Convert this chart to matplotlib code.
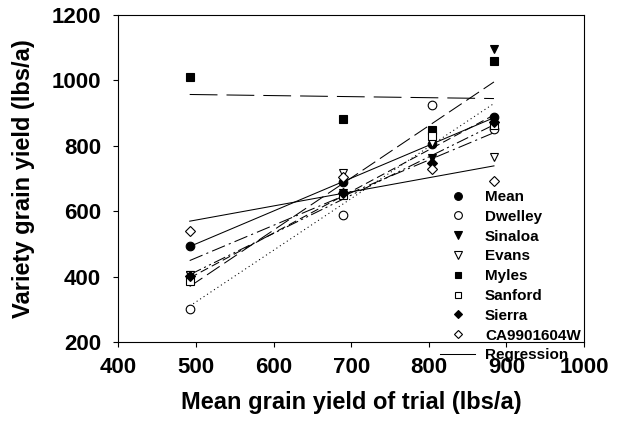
import numpy as np
import matplotlib
matplotlib.use("Agg")
import matplotlib.pyplot as plt
from matplotlib.lines import Line2D

plt.rcParams['font.family'] = ['Liberation Sans', 'DejaVu Sans']
plt.rcParams['font.weight'] = 'bold'
plt.rcParams['lines.scale_dashes'] = False

# trial mean yields (x) and variety yields at each trial (lbs/a)
trial_mean = [492, 690, 804, 884]
varieties = ["Mean", "Dwelley", "Sinaloa", "Evans", "Myles", "Sanford", "Sierra", "CA9901604W"]
mean_y = [493, 691, 805, 887]
dwelley_y = [303, 589, 924, 851]
sinaloa_y = [407, 656, 762, 1095]
evans_y = [405, 718, 808, 767]
myles_y = [1012, 881, 848, 1059]
sanford_y = [388, 650, 830, 864]
sierra_y = [402, 657, 747, 874]
ca_y = [540, 706, 729, 694]

series = [mean_y, dwelley_y, sinaloa_y, evans_y, myles_y, sanford_y, sierra_y, ca_y]

# marker, fill, line dash pattern for each variety
styles = [
    ('o', 'black', '-'),
    ('o', 'white', (0, (0.8, 2.2))),
    ('v', 'black', (0, (11, 4))),
    ('v', 'white', (0, (10, 3, 1.5, 3))),
    ('s', 'black', (0, (20, 6.5))),
    ('s', 'white', (0, (6, 3))),
    ('D', 'black', (0, (9, 2.5, 1.5, 2.5, 1.5, 2.5))),
    ('D', 'white', '-'),
]
msizes = {'o': 6.2, 'v': 6.4, 's': 5.4, 'D': 5.0}

fig = plt.figure(figsize=(6.2, 4.25), dpi=100)
ax = fig.add_axes([118.3 / 620, 1 - 342.3 / 425, (584 - 118.3) / 620, (342.3 - 15) / 425])

x = np.array(trial_mean, dtype=float)
xs = np.array([x.min(), x.max()])
handles = []
for name, y, (mk, fc, ls) in zip(varieties, series, styles):
    slope, icpt = np.polyfit(x, np.array(y, dtype=float), 1)
    ax.plot(xs, slope * xs + icpt, color='black', lw=0.75, linestyle=ls, zorder=2)
    ax.plot(x, y, linestyle='none', marker=mk, ms=msizes[mk], mfc=fc, mec='black',
            mew=0.8, zorder=3, clip_on=False)
    handles.append(Line2D([], [], linestyle='none', marker=mk, ms=msizes[mk] * 0.9,
                          mfc=fc, mec='black', mew=0.8))
handles.append(Line2D([], [], color='black', lw=0.75))
labels = varieties + ["Regression"]

ax.set_xlim(400, 1000)
ax.set_ylim(200, 1200)
ax.set_xticks(np.arange(400, 1001, 100))
ax.set_yticks(np.arange(200, 1201, 200))
ax.tick_params(direction='out', length=3.5, width=0.8, labelsize=16, pad=7,
               top=False, right=False)
ax.tick_params(axis='y', pad=9)
for s in ax.spines.values():
    s.set_linewidth(0.8)

ax.set_xlabel("Mean grain yield of trial (lbs/a)", fontsize=17, fontweight='bold')
ax.set_ylabel("Variety grain yield (lbs/a)", fontsize=17, fontweight='bold')
ax.xaxis.set_label_coords(0.5, -0.15)
ax.yaxis.set_label_coords(-0.178, 0.5)

leg = ax.legend(handles, labels, loc='upper left', bbox_to_anchor=(440 / 620, 1 - 190 / 425),
                bbox_transform=fig.transFigure, frameon=False, fontsize=11,
                handlelength=2.3, handletextpad=0.65, labelspacing=0.38,
                borderpad=0, borderaxespad=0, numpoints=1)
for t in leg.get_texts():
    t.set_fontweight('bold')

fig.savefig("out.png", dpi=100)
